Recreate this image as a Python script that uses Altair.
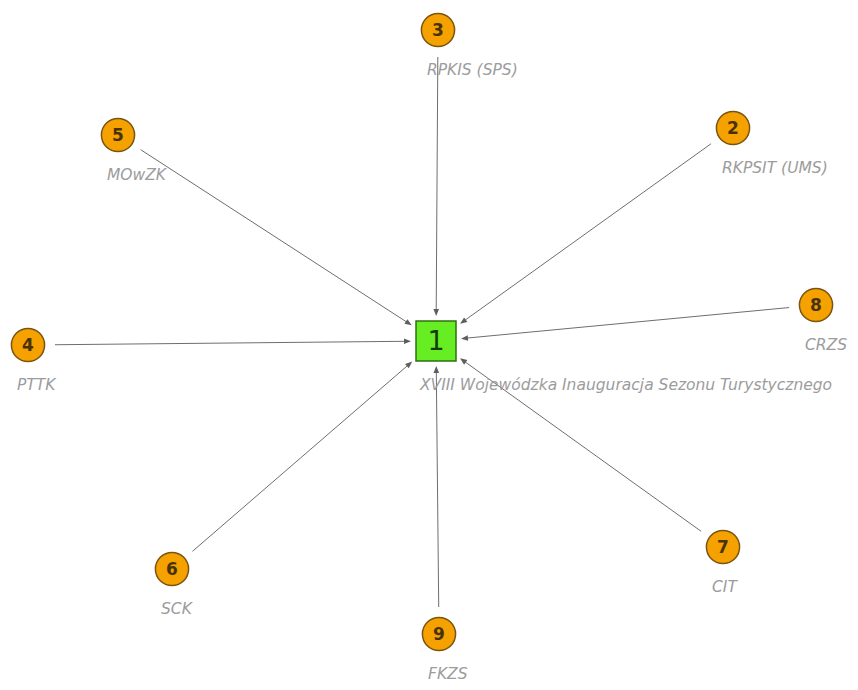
import math
import altair as alt
import pandas as pd

# --- data -------------------------------------------------------------
node_ids = [1, 2, 3, 4, 5, 6, 7, 8, 9]
node_names = [
    "XVIII Wojewódzka Inauguracja Sezonu Turystycznego",
    "RKPSIT (UMS)",
    "RPKIS (SPS)",
    "PTTK",
    "MOwZK",
    "SCK",
    "CIT",
    "CRZS",
    "FKZS",
]
# layout positions of the network nodes (page pixel space)
node_x = [436, 733, 438, 28, 118, 172, 723, 816, 439]
node_y = [341, 128, 30, 345, 135, 569, 547, 305, 634]

edge_source = [2, 3, 4, 5, 6, 7, 8, 9]
edge_target = [1, 1, 1, 1, 1, 1, 1, 1]

# --- derived tables ---------------------------------------------------
nodes = pd.DataFrame({"id": node_ids, "name": node_names, "x": node_x, "y": node_y})
hub = nodes[nodes["id"] == 1]
others = nodes[nodes["id"] != 1]

pos = {i: (x, y) for i, x, y in zip(node_ids, node_x, node_y)}
NODE_GAP = 27      # line starts this far from a circle centre
HALF_SQ = 20       # half side of the hub square
TIP_GAP = 5        # arrow tip distance from square edge
HEAD_HALF = 3.5    # half length of the arrowhead

rows = []
for s, t in zip(edge_source, edge_target):
    sx, sy = pos[s]
    tx, ty = pos[t]
    dx, dy = tx - sx, ty - sy
    L = math.hypot(dx, dy)
    ux, uy = dx / L, dy / L
    tb = HALF_SQ / max(abs(ux), abs(uy)) + TIP_GAP
    tipx, tipy = tx - ux * tb, ty - uy * tb
    hx, hy = tipx - ux * HEAD_HALF, tipy - uy * HEAD_HALF
    ang = math.degrees(math.atan2(ux, -uy)) % 360
    rows.append(
        {
            "x": sx + ux * NODE_GAP,
            "y": sy + uy * NODE_GAP,
            "x2": hx,
            "y2": hy,
            "angle": ang,
        }
    )
edges = pd.DataFrame(rows)

W, H = 842, 674
xs = alt.Scale(domain=[8, 8 + W], nice=False, zero=False)
ys = alt.Scale(domain=[8, 8 + H], nice=False, zero=False, reverse=True)
X = lambda f: alt.X(f, type="quantitative", scale=xs, axis=None)
Y = lambda f: alt.Y(f, type="quantitative", scale=ys, axis=None)

LABEL_FONT = "DejaVu Sans"
LABEL_SIZE = 15.5

lines = alt.Chart(edges).mark_rule(color="#6e6e6e", strokeWidth=1).encode(
    x=X("x"), y=Y("y"), x2="x2", y2="y2"
)

heads = alt.Chart(edges).mark_point(
    shape="M0,-1L0.8,1L-0.8,1Z", filled=True, color="#5e5e5e", size=49, opacity=1
).encode(x=X("x2"), y=Y("y2"), angle=alt.Angle("angle:Q", scale=None))

circles = alt.Chart(others).mark_point(
    shape="circle", filled=True, size=1100, fill="#f5a200", stroke="#7a5410",
    strokeWidth=1.5, opacity=1
).encode(x=X("x"), y=Y("y"))

nums = alt.Chart(others).mark_text(
    font="DejaVu Sans", fontSize=17, fontWeight="bold", color="#4a3208",
    baseline="middle", align="center", dy=1
).encode(x=X("x"), y=Y("y"), text="id:N")

labels = alt.Chart(others).mark_text(
    font=LABEL_FONT, fontSize=LABEL_SIZE, fontStyle="italic", fontWeight=200,
    color="#9c9c9c", align="left", baseline="middle", dx=-11, dy=40
).encode(x=X("x"), y=Y("y"), text="name:N")

square = alt.Chart(hub).mark_point(
    shape="square", filled=True, size=1600, fill="#66ee22", stroke="#2f6f12",
    strokeWidth=1.5, opacity=1
).encode(x=X("x"), y=Y("y"))

hub_num = alt.Chart(hub).mark_text(
    font="DejaVu Sans", fontSize=27, color="#123d10", baseline="middle",
    align="center", dy=1
).encode(x=X("x"), y=Y("y"), text="id:N")

hub_label = alt.Chart(hub).mark_text(
    font=LABEL_FONT, fontSize=LABEL_SIZE, fontStyle="italic", fontWeight=200,
    color="#9c9c9c", align="left", baseline="middle", dx=-16, dy=44
).encode(x=X("x"), y=Y("y"), text="name:N")

chart = (
    alt.layer(lines, heads, circles, nums, labels, square, hub_num, hub_label)
    .properties(width=W, height=H, padding=0, autosize="none", background="white")
    .configure_view(stroke=None)
)

chart.save("out.html", embed_options={"renderer": "svg", "actions": False})
